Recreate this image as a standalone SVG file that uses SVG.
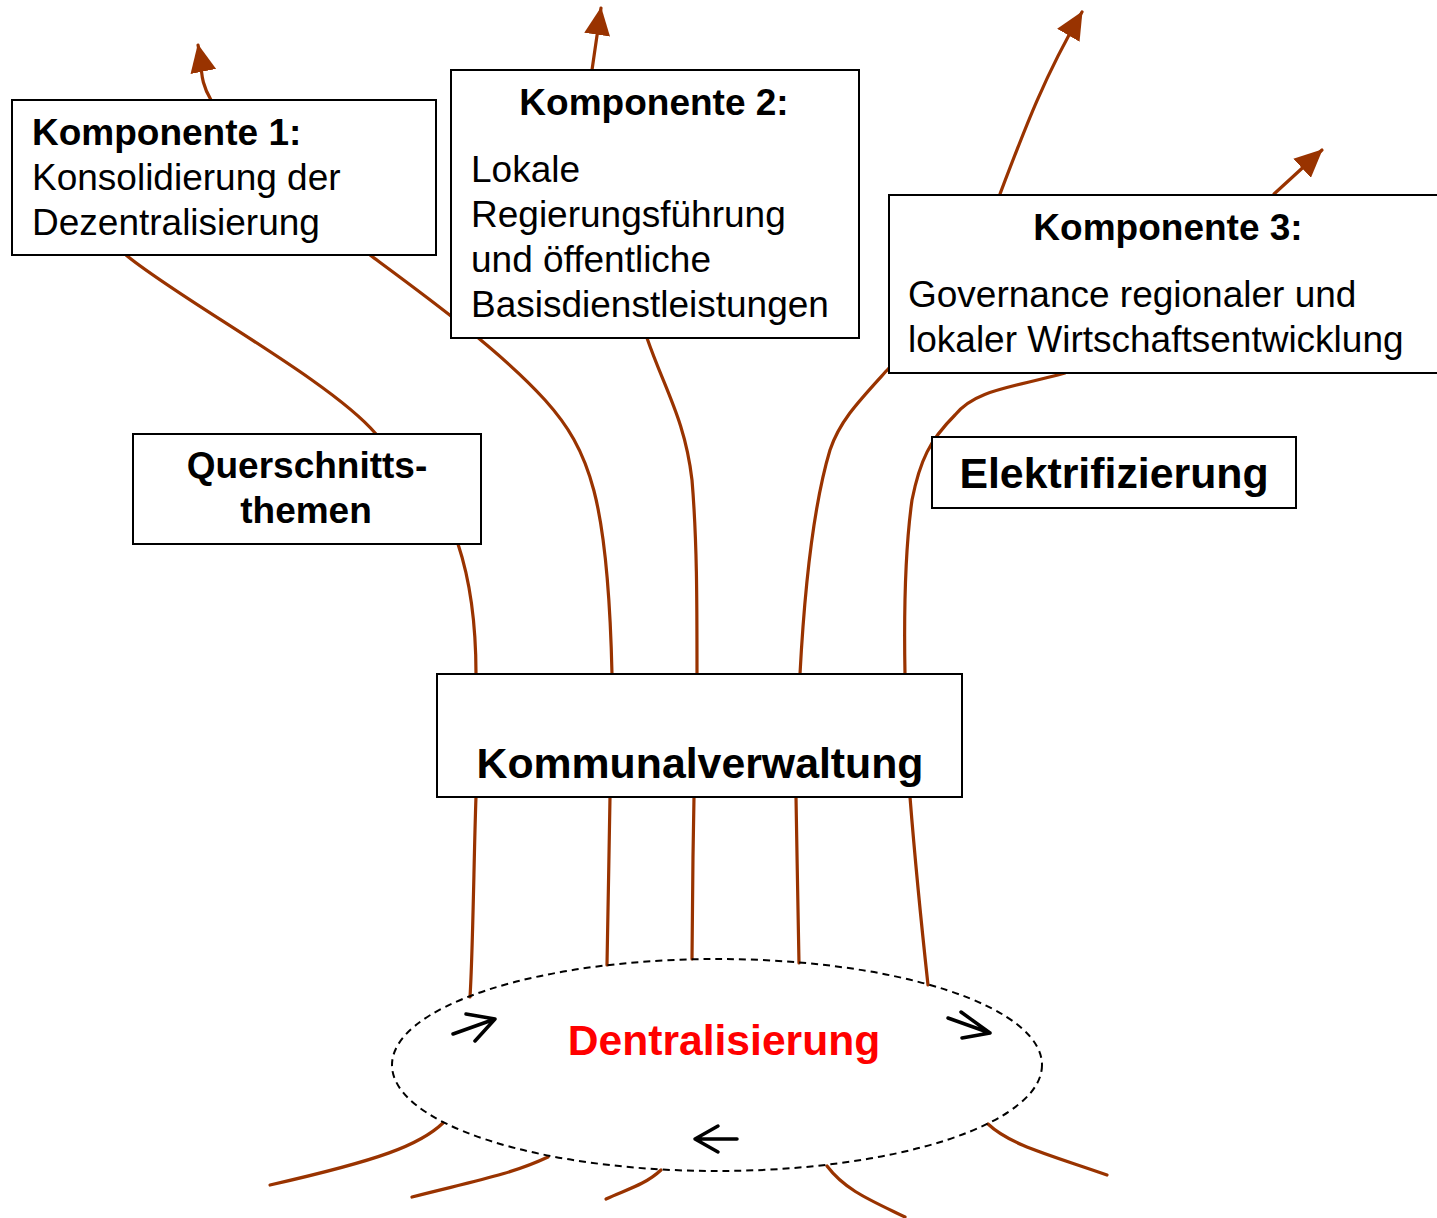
<svg xmlns="http://www.w3.org/2000/svg" width="1437" height="1218" viewBox="0 0 1437 1218">
<style>
.box{fill:#fff;stroke:#000;stroke-width:2}
.t{font-family:"Liberation Sans",Arial,sans-serif;font-size:37px;fill:#000}
.b{font-weight:bold}
.big{font-family:"Liberation Sans",Arial,sans-serif;font-size:42.8px;font-weight:bold;fill:#000}
.c{fill:none;stroke:#993300;stroke-width:3.2;stroke-linecap:round}
.ar{fill:none;stroke:#000;stroke-width:3.5;stroke-linecap:round;stroke-linejoin:round}
</style>
<defs>
<marker id="ah" viewBox="0 0 28 26" refX="27" refY="13" markerWidth="28" markerHeight="26" markerUnits="userSpaceOnUse" orient="auto">
<path d="M0,0 L28,13 L0,26 z" fill="#993300"/>
</marker>
</defs>
<rect width="1437" height="1218" fill="#fff"/>
<g id="connectors">
<path class="c" marker-end="url(#ah)" d="M211,100 C204,88 201,78 201,60 L198,45"/>
<path class="c" marker-end="url(#ah)" d="M592,70 L601,8"/>
<path class="c" marker-end="url(#ah)" d="M1000,194 C1025,128 1045,75 1082,12"/>
<path class="c" marker-end="url(#ah)" d="M1274,194 L1322,150"/>
<path class="c" d="M126,255 C180,300 330,380 376,434"/>
<path class="c" d="M370,255 C420,292 500,350 545,400 C590,450 608,500 612,674"/>
<path class="c" d="M458,544 C470,580 476,620 476,674"/>
<path class="c" d="M647,338 C665,390 685,420 692,480 C697,540 697,600 697,674"/>
<path class="c" d="M889,368 C860,400 840,420 830,450 C815,500 805,580 800,674"/>
<path class="c" d="M1065,373 C1010,388 975,390 955,415 C930,440 920,460 912,500 C905,550 904,620 905,674"/>
<path class="c" d="M476,797 C474,850 473,950 470,997"/>
<path class="c" d="M610,797 C609,850 608,920 607,965"/>
<path class="c" d="M694,797 C693,850 692,920 692,959"/>
<path class="c" d="M796,797 C797,850 798,920 799,963"/>
<path class="c" d="M910,797 C915,860 922,930 928,985"/>
<path class="c" d="M443,1123 C420,1145 380,1160 270,1185"/>
<path class="c" d="M548,1157 C510,1175 470,1182 412,1197"/>
<path class="c" d="M661,1170 C645,1185 625,1190 606,1199"/>
<path class="c" d="M827,1166 C845,1190 870,1200 905,1217"/>
<path class="c" d="M988,1124 C1010,1145 1050,1155 1107,1175"/>
</g>
<g id="k1">
<rect class="box" x="12" y="100" width="424" height="155"/>
<text class="t b" x="32" y="145">Komponente 1:</text>
<text class="t" x="32" y="190">Konsolidierung der</text>
<text class="t" x="32" y="235">Dezentralisierung</text>
</g>
<g id="k2">
<rect class="box" x="451" y="70" width="408" height="268"/>
<text class="t b" x="654" y="115" text-anchor="middle">Komponente 2:</text>
<text class="t" x="471" y="182">Lokale</text>
<text class="t" x="471" y="227">Regierungsführung</text>
<text class="t" x="471" y="272">und öffentliche</text>
<text class="t" x="471" y="317">Basisdienstleistungen</text>
</g>
<g id="k3">
<rect class="box" x="889" y="195" width="560" height="178"/>
<text class="t b" x="1168" y="240" text-anchor="middle">Komponente 3:</text>
<text class="t" x="908" y="307">Governance regionaler und</text>
<text class="t" x="908" y="352">lokaler Wirtschaftsentwicklung</text>
</g>
<g id="querschnitt">
<rect class="box" x="133" y="434" width="348" height="110"/>
<text class="t b" x="307" y="478" text-anchor="middle">Querschnitts-</text>
<text class="t b" x="306" y="523" text-anchor="middle">themen</text>
</g>
<g id="elektrifizierung">
<rect class="box" x="932" y="437" width="364" height="71"/>
<text class="big" x="1114" y="488" text-anchor="middle">Elektrifizierung</text>
</g>
<g id="kommunal">
<rect class="box" x="437" y="674" width="525" height="123"/>
<text class="big" x="700" y="778" text-anchor="middle">Kommunalverwaltung</text>
</g>
<g id="dezentral">
<ellipse cx="717" cy="1065" rx="325" ry="106" fill="none" stroke="#000" stroke-width="2" stroke-dasharray="7,5"/>
<text x="724" y="1055" text-anchor="middle" font-family="Liberation Sans,Arial,sans-serif" font-size="42.6" font-weight="bold" fill="#ff0000">Dentralisierung</text>
<path class="ar" d="M453,1034 L495,1019 M466,1014 L495,1019 L475,1041"/>
<path class="ar" d="M948,1018 L990,1033 M961,1012 L990,1033 L962,1038"/>
<path class="ar" d="M737,1139 L695,1139 M718,1126 L695,1139 L718,1152"/>
</g>
</svg>
